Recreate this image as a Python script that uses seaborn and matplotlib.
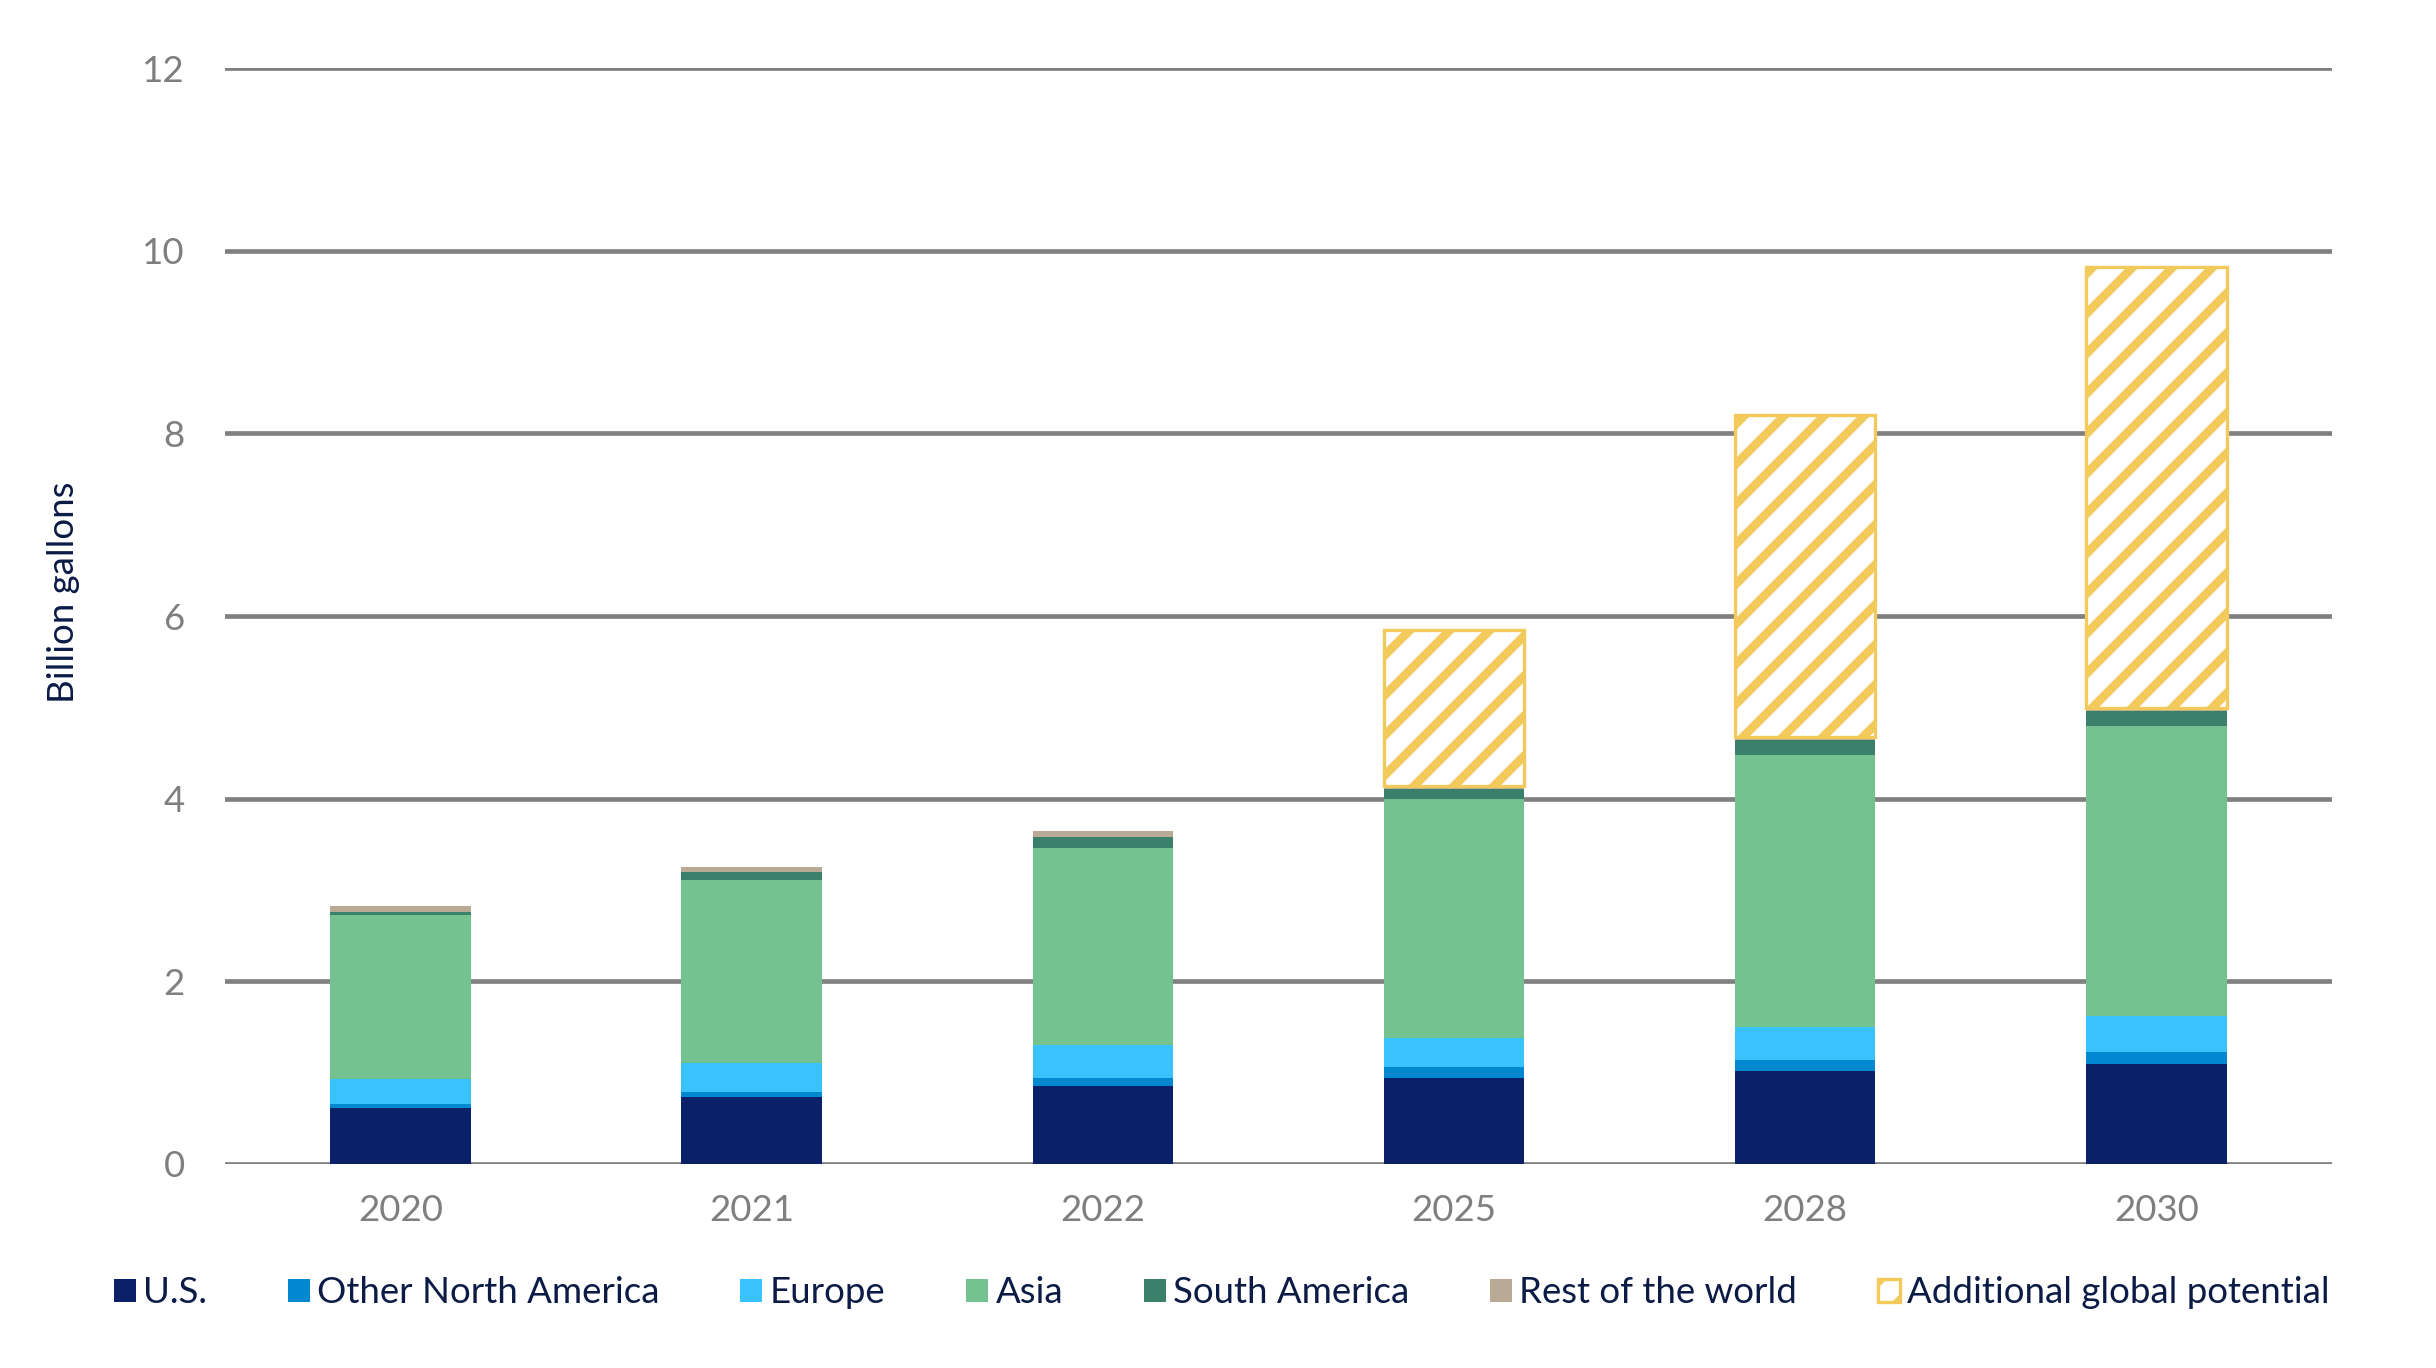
import pandas as pd
import matplotlib.pyplot as plt
import seaborn as sns
from matplotlib.patches import Patch

# Data (billion gallons)
years = ['2020', '2021', '2022', '2025', '2028', '2030']
us = [0.61, 0.73, 0.85, 0.94, 1.01, 1.09]
other_north_america = [0.04, 0.05, 0.09, 0.12, 0.13, 0.13]
europe = [0.28, 0.32, 0.36, 0.32, 0.36, 0.40]
asia = [1.79, 2.01, 2.16, 2.61, 2.98, 3.18]
south_america = [0.04, 0.09, 0.12, 0.12, 0.16, 0.16]
rest_of_world = [0.06, 0.05, 0.06, 0.03, 0.03, 0.03]
additional_potential = [0, 0, 0, 1.71, 3.53, 4.83]

series_names = ['U.S.', 'Other North America', 'Europe', 'Asia',
                'South America', 'Rest of the world']
series_values = [us, other_north_america, europe, asia, south_america, rest_of_world]
series_colors = ['#0A2069', '#0089D1', '#38C3FF', '#74C290', '#3B806B', '#B8AA94']
hatch_name = 'Additional global potential'
hatch_color = '#F2CA5C'

text_color = '#0B1B46'
tick_color = '#7F7F7F'
grid_color = '#808080'


def main():
    sns.set_theme(style='white')
    plt.rcParams['font.family'] = ['Lato', 'DejaVu Sans']
    plt.rcParams['hatch.linewidth'] = 2.6
    plt.rcParams['hatch.color'] = hatch_color

    df = pd.DataFrame({'year': years})
    for name, vals in zip(series_names, series_values):
        df[name] = vals
    df[hatch_name] = additional_potential

    fig, ax = plt.subplots(figsize=(2436 / 240, 1368 / 240))
    fig.subplots_adjust(left=0.0923, right=0.9573, bottom=0.1494, top=0.950)

    # stacked bars, one seaborn call per layer
    bottom = pd.Series(0.0, index=df.index)
    for name, color in zip(series_names, series_colors):
        sns.barplot(data=df, x='year', y=name, order=years, bottom=bottom,
                    color=color, saturation=1, width=0.4, errorbar=None,
                    linewidth=0, edgecolor='none', ax=ax, zorder=3)
        bottom = bottom + df[name]

    # hatched top layer only where there is extra potential
    extra = df[df[hatch_name] > 0]
    sns.barplot(data=extra, x='year', y=hatch_name, order=years,
                bottom=bottom[extra.index], color='white', saturation=1,
                width=0.4, errorbar=None, edgecolor=hatch_color, linewidth=1.0,
                hatch='//', ax=ax, zorder=3)

    # axes styling
    ax.set_xlim(-0.5, 5.5)
    ax.set_ylim(0, 12)
    ax.set_yticks(range(0, 13, 2))
    ax.yaxis.grid(True, color=grid_color, linewidth=1.4, zorder=0)
    ax.set_axisbelow(True)
    for side in ['top', 'right', 'left', 'bottom']:
        ax.spines[side].set_visible(False)
    ax.tick_params(axis='y', length=0, pad=12, labelsize=11, labelcolor=tick_color)
    ax.tick_params(axis='x', length=0, pad=9, labelsize=11, labelcolor=tick_color)
    ax.set_xlabel('')
    ax.set_ylabel('Billion gallons', fontsize=11, color=text_color, va='center')
    ax.yaxis.set_label_coords(-0.0768, 0.522)

    # legend along the bottom
    handles = [Patch(facecolor=c, edgecolor='none') for c in series_colors]
    handles.append(Patch(facecolor='white', edgecolor=hatch_color, hatch='//', linewidth=1.0))
    fig.legend(handles, series_names + [hatch_name], loc='center',
               bbox_to_anchor=(0.5016, 0.055), ncol=7, frameon=False,
               fontsize=11, labelcolor=text_color, handlelength=0.6,
               handleheight=0.6, handletextpad=0.2, columnspacing=2.2)

    fig.savefig('out.png', dpi=240)
    plt.close(fig)


if __name__ == '__main__':
    main()
